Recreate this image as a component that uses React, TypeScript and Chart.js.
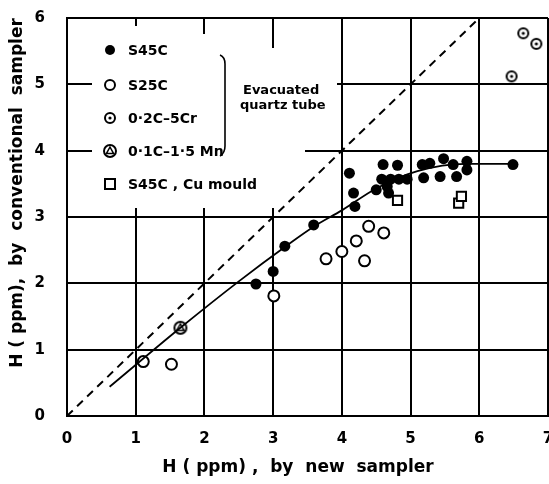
import React, { useEffect, useRef } from "react";
import { Chart, registerables } from "chart.js";
Chart.register(...registerables);

// ---- data ----
const s45cX = [2.75, 3.0, 3.17, 3.59, 4.11, 4.17, 4.19, 4.5, 4.58, 4.6, 4.66, 4.68, 4.71, 4.81, 4.83, 4.95, 5.17, 5.28, 5.48, 5.62, 5.82, 5.82, 5.19, 5.43, 5.67, 6.49];
const s45cY = [1.99, 2.18, 2.56, 2.88, 3.66, 3.36, 3.16, 3.41, 3.57, 3.79, 3.46, 3.36, 3.57, 3.78, 3.57, 3.57, 3.79, 3.81, 3.88, 3.79, 3.84, 3.71, 3.59, 3.61, 3.61, 3.79];
const s25cX = [1.11, 1.52, 3.01, 3.77, 4.0, 4.21, 4.33, 4.39, 4.61];
const s25cY = [0.82, 0.78, 1.81, 2.37, 2.48, 2.64, 2.34, 2.86, 2.76];
const crX = [6.47, 6.64, 6.83];
const crY = [5.12, 5.77, 5.61];
const mnX = [1.65];
const mnY = [1.33];
const cuX = [4.81, 5.7, 5.74];
const cuY = [3.25, 3.21, 3.31];
const curveX = [0.62, 1.65, 2.5, 3.2, 3.6, 4.0, 4.5, 5.1, 5.8, 6.5];
const curveY = [0.44, 1.33, 2.03, 2.57, 2.86, 3.1, 3.43, 3.69, 3.8, 3.8];
const diagX = [0, 6];
const diagY = [0, 6];
const xTicks = [0, 1, 2, 3, 4, 5, 6, 7];
const yTicks = [0, 1, 2, 3, 4, 5, 6];
const legendLabels = ["S45C", "S25C", "0·2C\u20135Cr", "0·1C\u20131·5 Mn", "S45C , Cu mould"];
const bracketText = ["Evacuated", "quartz tube"];
const xTitle = "H ( ppm) ,  by  new  sampler";
const yTitle = "H ( ppm),  by  conventional  sampler";

const FONT = "'DejaVu Sans', sans-serif";

const pts = (xs: number[], ys: number[]) => xs.map((x, i) => ({ x, y: ys[i] }));

function drawRingDot(ctx: CanvasRenderingContext2D, x: number, y: number) {
  ctx.beginPath();
  ctx.arc(x, y, 5, 0, Math.PI * 2);
  ctx.fillStyle = "#fff";
  ctx.fill();
  ctx.lineWidth = 2;
  ctx.strokeStyle = "#000";
  ctx.stroke();
  ctx.beginPath();
  ctx.arc(x, y, 1.6, 0, Math.PI * 2);
  ctx.fillStyle = "#000";
  ctx.fill();
}
function drawRingTri(ctx: CanvasRenderingContext2D, x: number, y: number) {
  ctx.beginPath();
  ctx.arc(x, y, 6, 0, Math.PI * 2);
  ctx.fillStyle = "#fff";
  ctx.fill();
  ctx.lineWidth = 2;
  ctx.strokeStyle = "#000";
  ctx.stroke();
  ctx.beginPath();
  ctx.moveTo(x, y - 4);
  ctx.lineTo(x + 3.6, y + 2.6);
  ctx.lineTo(x - 3.6, y + 2.6);
  ctx.closePath();
  ctx.lineWidth = 1.5;
  ctx.stroke();
}
function makeMarker(size: number, fn: (c: CanvasRenderingContext2D, x: number, y: number) => void) {
  const c = document.createElement("canvas");
  c.width = size;
  c.height = size;
  const ctx = c.getContext("2d")!;
  fn(ctx, size / 2, size / 2);
  return c;
}

// white box behind the key, as in the original figure
const maskPlugin = {
  id: "legendMask",
  beforeDatasetsDraw(chart: any) {
    const ctx = chart.ctx as CanvasRenderingContext2D;
    const ys = chart.scales.y;
    const xs = chart.scales.x;
    ctx.save();
    ctx.fillStyle = "#fff";
    ctx.fillRect(92, 48, 249, 160);
    ctx.fillRect(92, 26, 60, 22);
    ctx.fillRect(152, 34, 119, 14);
    ctx.strokeStyle = "#000";
    ctx.lineWidth = 2;
    const x4 = Math.round(xs.getPixelForValue(4));
    const y4 = Math.round(ys.getPixelForValue(4));
    const y5 = Math.round(ys.getPixelForValue(5));
    ctx.beginPath();
    ctx.moveTo(305, y4);
    ctx.lineTo(x4, y4);
    ctx.moveTo(337, y5);
    ctx.lineTo(x4, y5);
    ctx.stroke();
    ctx.restore();
  },
};

const legendPlugin = {
  id: "customLegend",
  afterDraw(chart: any) {
    const ctx = chart.ctx as CanvasRenderingContext2D;
    ctx.save();
    const mx = 110;
    const tx = 128;
    const rows = [50, 85, 118, 151, 184];
    ctx.strokeStyle = "#000";
    ctx.fillStyle = "#000";
    ctx.beginPath();
    ctx.arc(mx, rows[0], 5, 0, Math.PI * 2);
    ctx.fill();
    ctx.beginPath();
    ctx.arc(mx, rows[1], 5, 0, Math.PI * 2);
    ctx.fillStyle = "#fff";
    ctx.fill();
    ctx.lineWidth = 2;
    ctx.stroke();
    drawRingDot(ctx, mx, rows[2]);
    drawRingTri(ctx, mx, rows[3]);
    ctx.beginPath();
    ctx.rect(mx - 5, rows[4] - 5, 10, 10);
    ctx.fillStyle = "#fff";
    ctx.fill();
    ctx.lineWidth = 2;
    ctx.strokeStyle = "#000";
    ctx.stroke();
    ctx.fillStyle = "#000";
    ctx.font = `bold 14px ${FONT}`;
    ctx.textBaseline = "middle";
    ctx.textAlign = "left";
    legendLabels.forEach((t, i) => ctx.fillText(t, tx, rows[i] + 1));
    ctx.beginPath();
    ctx.lineWidth = 1.6;
    ctx.moveTo(220, 55);
    ctx.quadraticCurveTo(225, 57, 225, 64);
    ctx.lineTo(225, 146);
    ctx.quadraticCurveTo(225, 153, 220, 156);
    ctx.stroke();
    ctx.font = `bold 13px ${FONT}`;
    ctx.fillText(bracketText[0], 243, 91);
    ctx.fillText(bracketText[1], 240, 106);

    // axis titles
    ctx.font = `bold 17px ${FONT}`;
    ctx.textAlign = "center";
    ctx.textBaseline = "middle";
    ctx.fillText(xTitle, 298, 468);
    ctx.translate(18, 193);
    ctx.rotate(-Math.PI / 2);
    ctx.fillText(yTitle, 0, 0);
    ctx.restore();
  },
};

const fixPad = (s: any) => {
  s.paddingLeft = 0;
  s.paddingRight = 0;
  s.paddingTop = 0;
  s.paddingBottom = 0;
};

export default function App() {
  const ref = useRef<HTMLCanvasElement>(null);
  useEffect(() => {
    document.body.style.margin = "0";
    const crMarker = makeMarker(16, drawRingDot);
    const mnMarker = makeMarker(18, drawRingTri);
    const chart = new Chart(ref.current!, {
      type: "scatter",
      data: {
        datasets: [
          {
            data: pts(diagX, diagY),
            showLine: true,
            borderColor: "#000",
            borderWidth: 2,
            borderDash: [8, 6],
            pointRadius: 0,
          },
          {
            data: pts(curveX, curveY),
            showLine: true,
            borderColor: "#000",
            borderWidth: 1.8,
            tension: 0.4,
            cubicInterpolationMode: "monotone",
            pointRadius: 0,
          },
          {
            data: pts(cuX, cuY),
            pointStyle: "rect",
            pointRadius: 6.5,
            backgroundColor: "#fff",
            borderColor: "#000",
            borderWidth: 2,
          },
          {
            data: pts(s25cX, s25cY),
            pointStyle: "circle",
            pointRadius: 5.5,
            backgroundColor: "#fff",
            borderColor: "#000",
            borderWidth: 2,
          },
          {
            data: pts(crX, crY),
            pointStyle: crMarker,
            pointRadius: 6,
          },
          {
            data: pts(mnX, mnY),
            pointStyle: mnMarker,
            pointRadius: 7,
          },
          {
            data: pts(s45cX, s45cY),
            pointStyle: "circle",
            pointRadius: 5.5,
            backgroundColor: "#000",
            borderColor: "#000",
            borderWidth: 0,
          },
        ],
      },
      options: {
        responsive: false,
        animation: false,
        layout: { autoPadding: false, padding: { left: 0, top: 18, right: 1, bottom: 0 } },
        plugins: { legend: { display: false }, tooltip: { enabled: false } },
        scales: {
          x: {
            type: "linear",
            min: 0,
            max: 7,
            afterBuildTicks: (s: any) => {
              s.ticks = xTicks.map((v) => ({ value: v }));
            },
            afterFit: (s: any) => {
              s.height = 68;
              fixPad(s);
            },
            grid: { color: "#000", lineWidth: 2, drawTicks: false },
            border: { color: "#000", width: 2 },
            ticks: {
              color: "#000",
              padding: 14,
              maxRotation: 0,
              autoSkip: false,
              font: { family: FONT, size: 15, weight: "bold" },
            },
            title: { display: false },
          },
          y: {
            type: "linear",
            min: 0,
            max: 6,
            afterBuildTicks: (s: any) => {
              s.ticks = yTicks.map((v) => ({ value: v }));
            },
            afterFit: (s: any) => {
              s.width = 67;
              fixPad(s);
            },
            grid: { color: "#000", lineWidth: 2, drawTicks: false },
            border: { color: "#000", width: 2 },
            ticks: {
              color: "#000",
              padding: 22,
              autoSkip: false,
              font: { family: FONT, size: 15, weight: "bold" },
            },
            title: { display: false },
          },
        },
      },
      plugins: [maskPlugin, legendPlugin],
    } as any);
    return () => chart.destroy();
  }, []);
  return (
    <div style={{ position: "fixed", left: 0, top: 0, width: 549, height: 484, background: "#fff" }}>
      <canvas ref={ref} width={549} height={484} style={{ display: "block" }} />
    </div>
  );
}
